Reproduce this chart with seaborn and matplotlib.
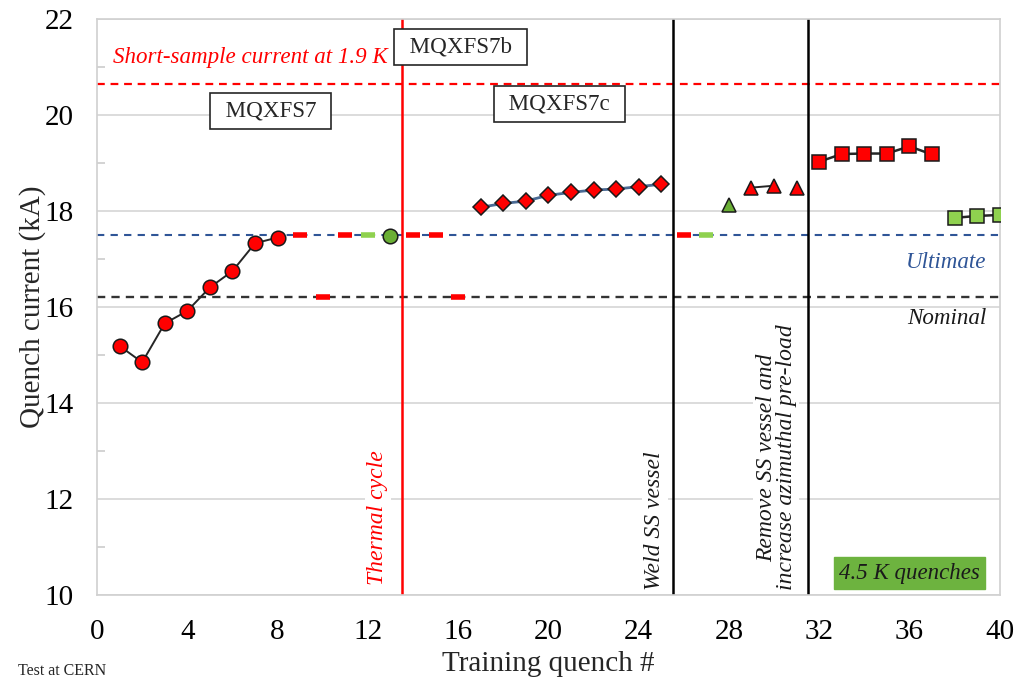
import matplotlib
matplotlib.use("Agg")
import matplotlib.pyplot as plt
import seaborn as sns
import numpy as np
import pandas as pd

# Training quench data (quench number, current in kA)
s7_q = [1, 2, 3, 4, 5, 6, 7, 8]
s7_i = [15.19, 14.85, 15.66, 15.92, 16.41, 16.75, 17.33, 17.45]

s7b_q = [13]
s7b_i = [17.49]

s7c_q = [17, 18, 19, 20, 21, 22, 23, 24, 25]
s7c_i = [18.08, 18.16, 18.21, 18.33, 18.39, 18.44, 18.46, 18.51, 18.56]

weld_45k_q = [28]
weld_45k_i = [18.13]
weld_q = [29, 30]
weld_i = [18.49, 18.53]
weld_single_q = [31]
weld_single_i = [18.49]

preload_q = [32, 33, 34, 35, 36, 37]
preload_i = [19.03, 19.19, 19.20, 19.20, 19.35, 19.18]
preload_45k_q = [38, 39, 40]
preload_45k_i = [17.86, 17.90, 17.92]

# Quenches held at ultimate / nominal current (no quench reached)
hold_ult_19k_q = [9, 11, 14, 15, 26]
hold_ult_45k_q = [12, 27]
hold_nom_19k_q = [10, 16]

ultimate = 17.5
nominal = 16.21
short_sample = 20.64

x_ticks = [0, 4, 8, 12, 16, 20, 24, 28, 32, 36, 40]
y_ticks = [10, 12, 14, 16, 18, 20, 22]

sns.set_theme(style="white")
plt.rcParams["font.family"] = ["Liberation Serif", "DejaVu Serif"]
plt.rcParams["mathtext.fontset"] = "stix"

RED = "#ff0000"
GREEN_D = "#6aaf35"
GREEN_L = "#8fd14f"
BLUE = "#2f5597"

fig = plt.figure(figsize=(10.16, 6.84), dpi=100)
ax = fig.add_axes([0.0955, 0.130, 0.8885, 0.842])

# reference levels
ax.axhline(short_sample, color=RED, lw=1.6, dashes=(3.5, 2.6), zorder=1)
ax.axhline(ultimate, color=BLUE, lw=1.5, dashes=(3.5, 3.0), zorder=1)
ax.axhline(nominal, color="#333333", lw=1.7, dashes=(3.5, 2.6), zorder=1)

# test campaign boundaries
ax.axvline(13.5, color=RED, lw=1.8, zorder=2)
ax.axvline(25.5, color="black", lw=1.8, zorder=2)
ax.axvline(31.5, color="black", lw=1.8, zorder=2)

def series(q, i, marker, face, line_color, ms, lw=1.4, connect=True):
    df = pd.DataFrame({"q": q, "i": i})
    sns.lineplot(data=df, x="q", y="i", ax=ax, marker=marker, markersize=ms,
                 markerfacecolor=face, markeredgecolor="#1a1a1a",
                 markeredgewidth=1.1, color=line_color,
                 lw=lw if connect else 0, zorder=5, legend=False)

series(s7_q, s7_i, "o", RED, "#262626", 10.5)
series(s7b_q, s7b_i, "o", GREEN_D, "#262626", 10.5, connect=False)
series(s7c_q, s7c_i, "D", RED, "#4a6a94", 7.8, lw=2.0)
series(weld_45k_q, weld_45k_i, "^", GREEN_D, "#262626", 10, connect=False)
series(weld_q, weld_i, "^", RED, "#262626", 10)
series(weld_single_q, weld_single_i, "^", RED, "#262626", 10, connect=False)
series(preload_q, preload_i, "s", RED, "#262626", 9.5, lw=1.8)
series(preload_45k_q, preload_45k_i, "s", GREEN_L, "#262626", 9.5, lw=1.8)

# holds at ultimate / nominal drawn as short dashes
ax.plot(hold_ult_19k_q, [ultimate] * len(hold_ult_19k_q), ls="none", marker="_",
        ms=10.5, mew=4, color=RED, zorder=4)
ax.plot(hold_ult_45k_q, [ultimate] * len(hold_ult_45k_q), ls="none", marker="_",
        ms=10.5, mew=4, color=GREEN_L, zorder=4)
ax.plot(hold_nom_19k_q, [nominal] * len(hold_nom_19k_q), ls="none", marker="_",
        ms=10.5, mew=4, color=RED, zorder=4)

ax.set_xlim(0, 40)
ax.set_ylim(10, 22)
ax.set_xticks(x_ticks)
ax.set_yticks(y_ticks)
ax.set_yticks(np.arange(11, 22, 2), minor=True)
ax.yaxis.grid(True, which="major", color="#d9d9d9", lw=1.3, zorder=0)
ax.xaxis.grid(False)
ax.set_axisbelow(True)
for s in ax.spines.values():
    s.set_color("#d0d0d0")
    s.set_linewidth(1.2)
ax.tick_params(axis="x", which="major", labelsize=21, length=0, pad=17,
               colors="black")
ax.tick_params(axis="y", which="major", labelsize=21, length=0, pad=17,
               colors="black")
ax.tick_params(axis="y", which="minor", direction="in", length=6, width=1.1,
               color="#c8c8c8", left=True)

ax.set_xlabel("Training quench #", fontsize=21)
ax.set_ylabel("Quench current (kA)", fontsize=21)
ax.xaxis.set_label_coords(0.5, -0.097)
ax.yaxis.set_label_coords(-0.056, 0.5)

# annotations
ax.text(0.72, 21.2, "Short-sample current at 1.9 K", color=RED, fontsize=16.6,
        style="italic", va="center", ha="left", zorder=6)
box = dict(boxstyle="square,pad=0.33", fc="white", ec="#262626", lw=1.2)
ax.text(7.69, 20.09, "\u2004MQXFS7\u2004", fontsize=16.6, ha="center",
        va="center", bbox=box, zorder=6)
ax.text(16.12, 21.42, "\u2004MQXFS7b\u2004", fontsize=16.6, ha="center",
        va="center", bbox=box, zorder=6)
ax.text(20.49, 20.23, "\u2004MQXFS7c\u2004", fontsize=16.6, ha="center",
        va="center", bbox=box, zorder=6)
ax.text(39.42, 16.92, "Ultimate", color=BLUE, fontsize=16.6, style="italic",
        ha="right", va="center", zorder=6)
ax.text(39.42, 15.77, "Nominal", color="#1a1a1a", fontsize=16.6,
        style="italic", ha="right", va="center", zorder=6)

rot_bg = dict(boxstyle="square,pad=0.1", fc="white", ec="none")
ax.text(12.45, 10.22, "Thermal cycle", color=RED, fontsize=17, style="italic",
        rotation=90, ha="center", va="bottom", bbox=rot_bg, zorder=3)
ax.text(24.72, 10.1, "Weld SS vessel", color="#1a1a1a", fontsize=17,
        style="italic", rotation=90, ha="center", va="bottom", bbox=rot_bg,
        zorder=3)
ax.text(30.1, 10.1, "Remove SS vessel and\nincrease azimuthal pre-load",
        color="#1a1a1a", fontsize=17, style="italic", rotation=90,
        ha="center", va="bottom", linespacing=0.95, bbox=rot_bg, zorder=3)
ax.text(36.0, 10.46, "4.5 K quenches", color="#1a1a1a", fontsize=16.5,
        style="italic", ha="center", va="center", zorder=6,
        bbox=dict(boxstyle="square,pad=0.22", fc="#6db33f", ec="#6db33f"))

fig.text(0.018, 0.019, "Test at CERN", fontsize=11.5, ha="left", va="center")

fig.savefig("out.png", dpi=100)
